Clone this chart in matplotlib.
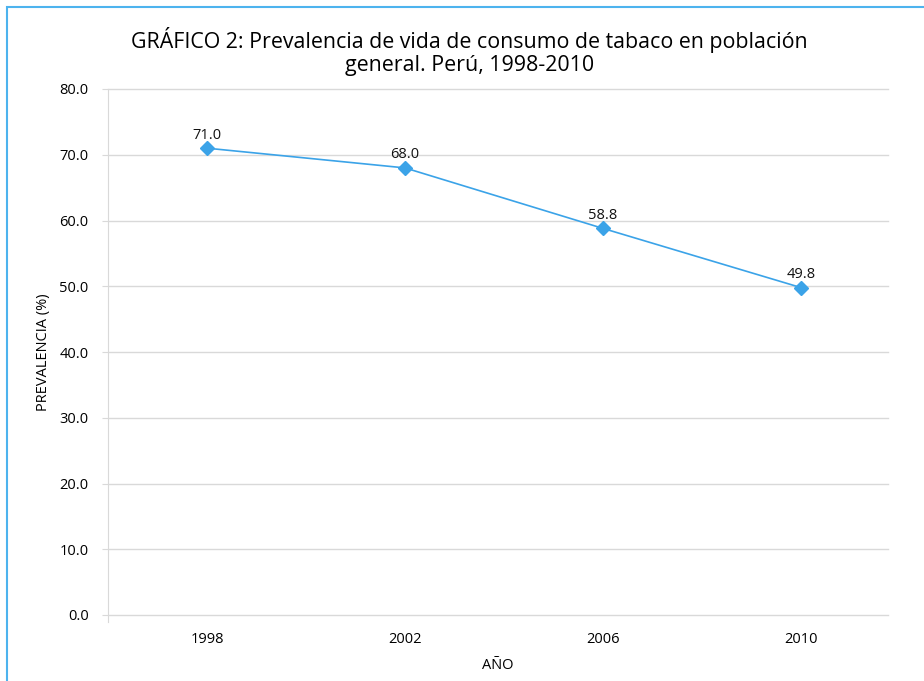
import matplotlib.pyplot as plt
from matplotlib.patches import Rectangle

# datos
anios = ['1998', '2002', '2006', '2010']
prevalencia = [71.0, 68.0, 58.8, 49.8]
y_ticks = [0, 10, 20, 30, 40, 50, 60, 70, 80]

plt.rcParams['font.family'] = ['Open Sans', 'DejaVu Sans']

fig = plt.figure(figsize=(9.24, 6.81), dpi=100)
ax = fig.add_axes([108 / 924, 1 - 615 / 681, 780 / 924, 526 / 681])

# marco azul del grafico
fig.patches.append(Rectangle((7 / 924, -0.1), 1.2, 1 - 7 / 681 + 0.1, transform=fig.transFigure,
                             fill=False, edgecolor='#4DB3EE', linewidth=1.5))

x = range(len(anios))
ax.plot(x, prevalencia, color='#3BA3E8', linewidth=1.2, marker='D', markersize=7,
        markerfacecolor='#3BA3E8', markeredgecolor='#3BA3E8', clip_on=False)
for xi, v in zip(x, prevalencia):
    ax.annotate(f'{v:.1f}', (xi, v), xytext=(0, 4), textcoords='offset points',
                ha='center', va='bottom', fontsize=10.5, color='#111111')

ax.set_xlim(-0.5, 3.44)
ax.set_ylim(0, 80)
ax.set_xticks(list(x))
ax.set_xticklabels(anios)
ax.set_yticks(y_ticks)
ax.set_yticklabels([f'{t:.1f}' for t in y_ticks])
ax.tick_params(axis='x', length=0, pad=12, labelsize=10.5)
ax.tick_params(axis='y', length=4, color='#D9D9D9', pad=10, labelsize=10.5)
ax.grid(axis='y', color='#D9D9D9', linewidth=1)
for gl in ax.get_ygridlines():
    gl.set_clip_on(False)
ax.set_axisbelow(True)
for s in ['top', 'right', 'bottom']:
    ax.spines[s].set_visible(False)
ax.spines['left'].set_color('#D9D9D9')
ax.spines['left'].set_bounds(-1, 80)
ax.spines['left'].set_clip_on(False)

ax.set_xlabel('AÑO', fontsize=10.5, labelpad=8)
ax.set_ylabel('PREVALENCIA (%)', fontsize=10.5, labelpad=6)

fig.text(0.508, 0.925, 'GRÁFICO 2: Prevalencia de vida de consumo de tabaco en población\ngeneral. Perú, 1998-2010',
         ha='center', va='center', fontsize=15.4, linespacing=1.12)

fig.savefig('out.png', dpi=100)
